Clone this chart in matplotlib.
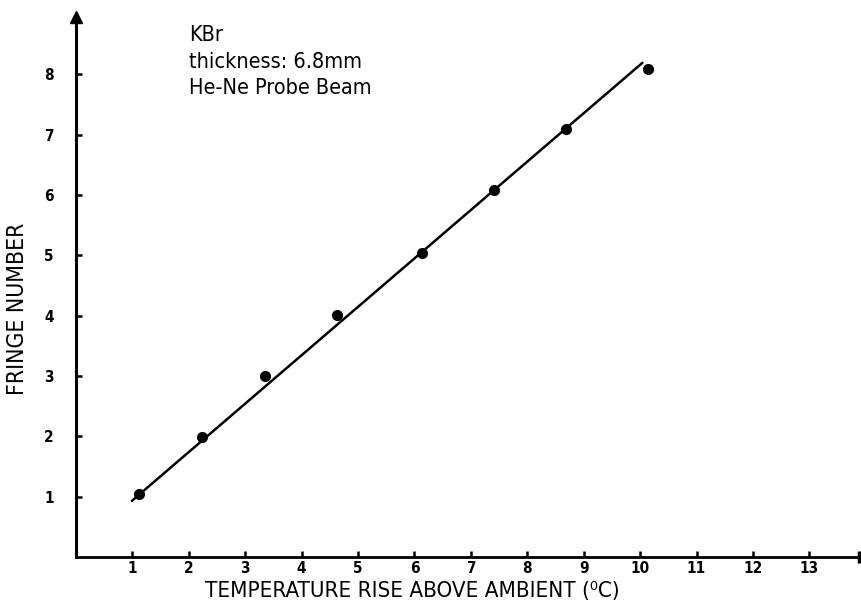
import matplotlib
matplotlib.use('Agg')
import matplotlib.pyplot as plt

# measured points (temperature rise, fringe number)
temp_rise = [1.12, 2.23, 3.35, 4.63, 6.13, 7.41, 8.69, 10.14]
fringes = [1.05, 1.99, 3.0, 4.01, 5.04, 6.09, 7.1, 8.09]

# hand-drawn fit line end points
fit_x = [0.99, 10.04]
fit_y = [0.93, 8.19]

x_ticks = list(range(1, 14))
y_ticks = list(range(1, 9))

plt.rcParams['font.family'] = ['DejaVu Sans']
plt.rcParams['font.stretch'] = 'condensed'

fig = plt.figure(figsize=(8.61, 6.03), dpi=100)
ax = fig.add_axes([76 / 861, 46 / 603, 783 / 861, 540 / 603])

ax.plot(fit_x, fit_y, color='black', lw=1.8, solid_capstyle='round')
ax.plot(temp_rise, fringes, 'o', color='black', ms=7)

ax.set_xlim(0, 13.88)
ax.set_ylim(0, 8.95)
ax.spines['top'].set_visible(False)
ax.spines['right'].set_visible(False)
ax.spines['left'].set_linewidth(2.2)
ax.spines['bottom'].set_linewidth(2.0)

# arrow on top of y axis, end stop on x axis
ax.plot([0], [8.95], marker='^', color='black', ms=8, clip_on=False)
ax.plot([13.88], [0], marker='|', color='black', ms=9, mew=2.5, clip_on=False)

ax.set_xticks(x_ticks)
ax.set_yticks(y_ticks)
ax.set_xticklabels([str(t) for t in x_ticks], fontweight='bold', fontsize=11)
ax.set_yticklabels([str(t) for t in y_ticks], fontweight='bold', fontsize=11)
ax.tick_params(axis='both', direction='in', length=4, width=1.8)
ax.tick_params(axis='y', pad=16)
ax.tick_params(axis='x', pad=3)

ax.set_xlabel('TEMPERATURE RISE ABOVE AMBIENT (\u2070C)', fontsize=16)
ax.xaxis.set_label_coords(0.43, -0.045)
ax.set_ylabel('FRINGE NUMBER', fontsize=16.5)
ax.yaxis.set_label_coords(-0.06, 0.46)

ax.text(2.0, 8.82, 'KBr\nthickness: 6.8mm\nHe-Ne Probe Beam', fontsize=15.5,
        va='top', ha='left', linespacing=1.42)

fig.savefig('out.png', dpi=100)
